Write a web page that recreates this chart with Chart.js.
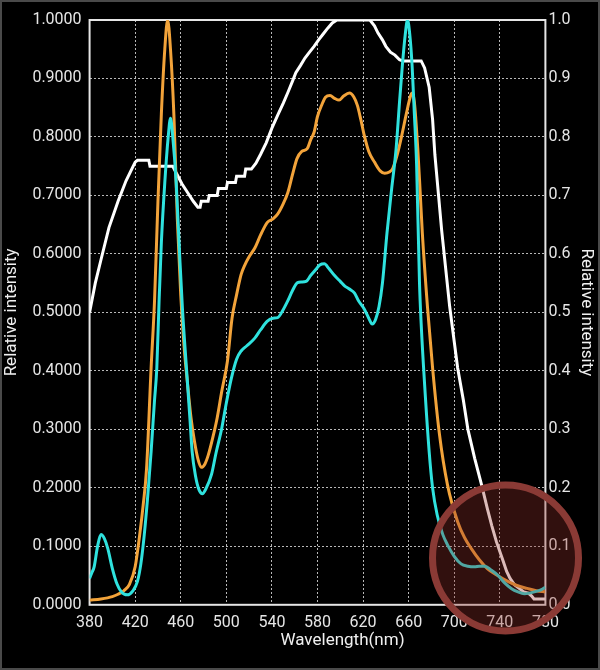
<!DOCTYPE html>
<html lang="en">
<head>
<meta charset="UTF-8">
<title>Relative intensity spectrum</title>
<script src="https://cdn.jsdelivr.net/npm/chart.js"></script>
<style>
  html, body { margin: 0; background: #000; }
  #wrap { width: 600px; height: 670px; position: relative; }
</style>
</head>
<body>
<div id="wrap"><canvas id="spectrumChart"></canvas></div>
<script>
// tick labels
const wavelengthTicks = [380, 420, 460, 500, 540, 580, 620, 660, 700, 740, 780];

// white curve (stepped)
const whiteNm = [380, 385, 390, 397, 405, 412, 417, 420, 422, 432, 433, 453, 457, 461, 466, 471, 475, 477, 478, 484, 485, 492, 493, 500, 501, 508, 509, 516, 517, 522, 526, 530, 535, 540, 545, 550, 554, 558, 561, 565, 569, 573, 577, 581, 585, 589, 593, 597, 626, 630, 633, 637, 640, 644, 648, 652, 655, 671, 674, 678, 681, 683, 689, 696, 703, 708, 712, 718, 724, 729, 733, 737, 742, 746, 749, 753, 757, 761, 765, 768, 770, 780];
const whiteRel = [0.50, 0.55, 0.59, 0.645, 0.69, 0.725, 0.745, 0.757, 0.76, 0.76, 0.75, 0.75, 0.735, 0.72, 0.705, 0.69, 0.68, 0.68, 0.69, 0.69, 0.70, 0.70, 0.712, 0.712, 0.722, 0.722, 0.733, 0.733, 0.745, 0.745, 0.755, 0.77, 0.79, 0.815, 0.837, 0.858, 0.876, 0.895, 0.91, 0.922, 0.935, 0.945, 0.955, 0.966, 0.976, 0.986, 0.995, 1.0, 1.0, 0.99, 0.978, 0.966, 0.955, 0.945, 0.94, 0.932, 0.93, 0.93, 0.918, 0.885, 0.83, 0.77, 0.64, 0.51, 0.405, 0.35, 0.30, 0.25, 0.205, 0.165, 0.135, 0.108, 0.08, 0.057, 0.045, 0.034, 0.028, 0.022, 0.02, 0.015, 0.01, 0.01];

// orange curve
const orangeNm = [380, 390, 400, 405, 410, 415, 420, 424, 427, 430, 434, 437, 440, 443, 446, 448.5, 451, 454, 457, 460, 463, 466, 469, 472, 475, 478, 481, 484, 488, 492, 496, 501, 505, 509, 513, 516, 520, 525, 530, 536, 541, 545, 550, 554, 558, 562, 566, 571, 574, 577, 580, 584, 587, 591, 595, 599, 603, 608, 612, 615, 618, 621, 625, 630, 635, 639, 643, 646, 650, 654, 658, 662, 663, 665, 668, 670, 672, 676.5, 681, 687, 694, 703, 709, 715, 722, 729, 738, 747, 755, 764, 772, 780];
const orangeRel = [0.008, 0.010, 0.014, 0.018, 0.024, 0.035, 0.065, 0.12, 0.17, 0.233, 0.405, 0.52, 0.69, 0.84, 0.95, 1.0, 0.95, 0.837, 0.66, 0.53, 0.44, 0.377, 0.32, 0.28, 0.25, 0.235, 0.24, 0.255, 0.285, 0.32, 0.365, 0.417, 0.49, 0.53, 0.565, 0.58, 0.595, 0.61, 0.632, 0.654, 0.66, 0.668, 0.686, 0.705, 0.735, 0.763, 0.775, 0.78, 0.795, 0.808, 0.835, 0.856, 0.868, 0.871, 0.866, 0.863, 0.87, 0.875, 0.868, 0.854, 0.83, 0.803, 0.775, 0.757, 0.742, 0.738, 0.74, 0.746, 0.77, 0.803, 0.84, 0.872, 0.875, 0.86, 0.78, 0.71, 0.636, 0.51, 0.405, 0.292, 0.206, 0.142, 0.115, 0.096, 0.077, 0.062, 0.05, 0.04, 0.033, 0.028, 0.024, 0.022];

// cyan curve
const cyanNm = [380, 382, 384, 387, 390, 393, 396, 400, 404, 408, 413, 418, 422, 425, 428, 431, 434, 437, 439, 441, 443, 446, 449, 451, 453, 456, 459, 461.5, 465, 468, 470, 473, 476, 479, 482, 487, 491, 496, 500, 504.5, 509, 513, 518, 525, 530, 536, 541, 545, 550, 554, 558, 562.5, 566, 570, 574, 578, 582, 586, 590, 595, 600, 604, 608, 612.5, 616, 621, 625, 628, 631, 634, 637, 641, 645, 649, 652, 654.5, 657, 659, 661, 663, 665, 667, 669.5, 671, 674, 678, 681, 685, 690, 694, 700, 706, 712, 718, 722, 727, 732, 738, 744, 750, 756, 761.5, 766, 772, 776.5, 780];
const cyanRel = [0.045, 0.055, 0.065, 0.10, 0.12, 0.113, 0.096, 0.062, 0.036, 0.022, 0.017, 0.024, 0.04, 0.07, 0.12, 0.185, 0.262, 0.35, 0.405, 0.52, 0.62, 0.722, 0.80, 0.832, 0.80, 0.722, 0.60, 0.506, 0.405, 0.32, 0.262, 0.22, 0.197, 0.19, 0.198, 0.223, 0.26, 0.302, 0.345, 0.388, 0.42, 0.434, 0.443, 0.456, 0.47, 0.485, 0.49, 0.491, 0.505, 0.52, 0.537, 0.551, 0.552, 0.553, 0.563, 0.572, 0.581, 0.583, 0.575, 0.563, 0.553, 0.545, 0.54, 0.533, 0.52, 0.506, 0.49, 0.48, 0.488, 0.51, 0.55, 0.636, 0.71, 0.78, 0.86, 0.923, 0.975, 1.0, 0.975, 0.923, 0.84, 0.751, 0.551, 0.48, 0.377, 0.262, 0.20, 0.154, 0.12, 0.103, 0.083, 0.07, 0.066, 0.065, 0.066, 0.066, 0.06, 0.051, 0.038, 0.028, 0.022, 0.019, 0.02, 0.023, 0.026, 0.03];

const toPoints = (xs, ys) => xs.map((x, i) => ({ x: x, y: ys[i] }));

const tickFont = { family: 'Roboto', size: 16 };
const titleFont = { family: 'Roboto', size: 17 };

// background, frame, x title and the red marker circle
const decorations = {
    id: 'decorations',
    beforeDraw(chart) {
        const ctx = chart.ctx;
        ctx.save();
        ctx.fillStyle = '#000';
        ctx.fillRect(0, 0, chart.width, chart.height);
        ctx.strokeStyle = '#4a4a4a';
        ctx.lineWidth = 2;
        ctx.strokeRect(1, 1, chart.width - 2, chart.height - 2);
        ctx.restore();
    },
    beforeDatasetsDraw(chart) {
        const ctx = chart.ctx;
        const a = chart.chartArea;
        ctx.save();
        ctx.strokeStyle = '#e6e6e6';
        ctx.lineWidth = 2;
        ctx.strokeRect(a.left, a.top, a.right - a.left, a.bottom - a.top);
        ctx.restore();
    },
    afterDraw(chart) {
        const ctx = chart.ctx;
        const a = chart.chartArea;
        ctx.save();
        ctx.font = '17px Roboto';
        ctx.fillStyle = '#f0f0f0';
        ctx.textAlign = 'center';
        ctx.textBaseline = 'middle';
        ctx.fillText('Wavelength(nm)', (a.left + a.right) / 2 + 25, a.bottom + 36);

        const cx = chart.scales.x.getPixelForValue(745);
        const cy = chart.scales.y.getPixelForValue(0.08);
        ctx.beginPath();
        ctx.arc(cx, cy, 73, 0, Math.PI * 2);
        ctx.fillStyle = 'rgba(150, 48, 42, 0.33)';
        ctx.fill();
        ctx.lineWidth = 7;
        ctx.strokeStyle = '#8a3a35';
        ctx.stroke();
        ctx.restore();
    }
};

const ctx = document.getElementById('spectrumChart').getContext('2d');

const chart = new Chart(ctx, {
    type: 'line',
    data: {
        datasets: [
            {
                label: 'cyan',
                data: toPoints(cyanNm, cyanRel),
                borderColor: '#2fe2de',
                borderWidth: 3,
                pointRadius: 0,
                cubicInterpolationMode: 'monotone',
            },
            {
                label: 'orange',
                data: toPoints(orangeNm, orangeRel),
                borderColor: '#f2a33a',
                borderWidth: 3,
                pointRadius: 0,
                cubicInterpolationMode: 'monotone',
            },
            {
                label: 'white',
                data: toPoints(whiteNm, whiteRel),
                borderColor: '#ffffff',
                borderWidth: 3,
                pointRadius: 0,
                tension: 0,
            },
        ],
    },
    options: {
        responsive: true,
        maintainAspectRatio: false,
        animation: false,
        layout: { padding: { top: 20, bottom: 28, left: 0, right: 0 } },
        plugins: {
            legend: { display: false },
            tooltip: { enabled: false },
        },
        scales: {
            x: {
                type: 'linear',
                min: 380,
                max: 780,
                afterBuildTicks: axis => { axis.ticks = wavelengthTicks.map(v => ({ value: v })); },
                ticks: { color: '#e6e6e6', font: tickFont, padding: 9, maxRotation: 0 },
                grid: { color: 'rgba(255,255,255,0.72)', lineWidth: 1, drawTicks: false },
                border: { display: false, dash: [2, 2] },
            },
            y: {
                position: 'left',
                min: 0,
                max: 1,
                ticks: { stepSize: 0.1, color: '#e6e6e6', font: tickFont, padding: 8,
                         callback: v => Number(v).toFixed(4) },
                grid: { color: 'rgba(255,255,255,0.72)', lineWidth: 1, drawTicks: false },
                border: { display: false, dash: [2, 2] },
                title: { display: true, text: 'Relative intensity', color: '#f0f0f0',
                         font: titleFont, padding: { top: 2, bottom: 2 } },
            },
            y2: {
                position: 'right',
                min: 0,
                max: 1,
                ticks: { stepSize: 0.1, color: '#e6e6e6', font: tickFont, padding: 3,
                         callback: v => Number(v).toFixed(1) },
                grid: { display: false, drawTicks: false },
                border: { display: false },
                title: { display: true, text: 'Relative intensity', color: '#f0f0f0',
                         font: titleFont, padding: { top: 4, bottom: 2 } },
            },
        },
    },
    plugins: [decorations],
});
</script>
</body>
</html>
